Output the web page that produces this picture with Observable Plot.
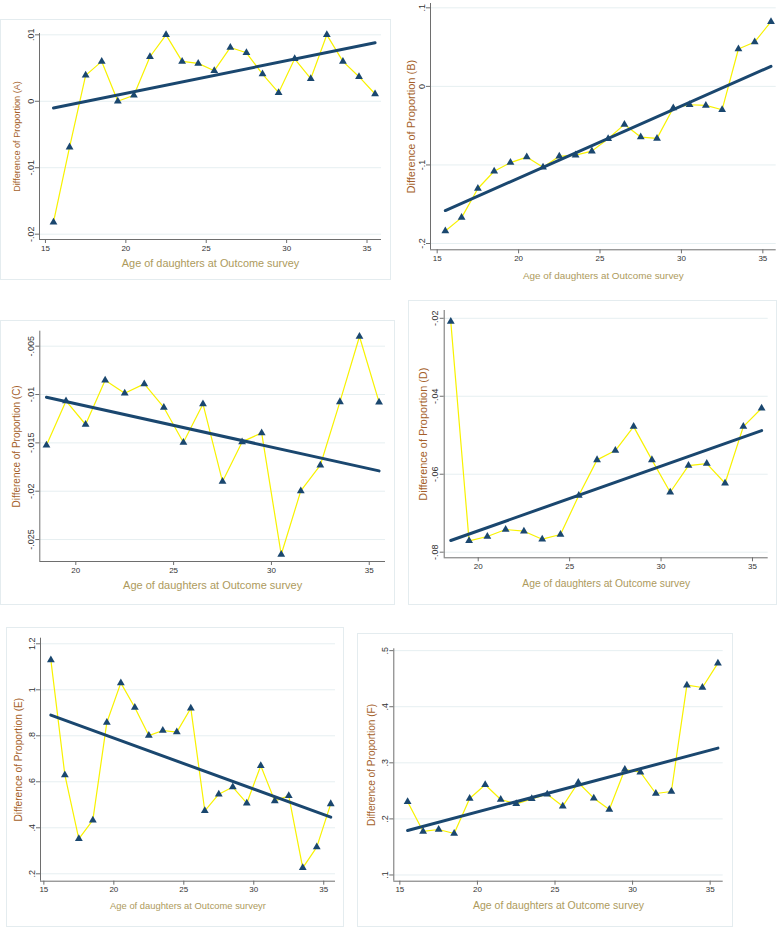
<!DOCTYPE html>
<html>
<head>
<meta charset="utf-8">
<script src="https://cdn.jsdelivr.net/npm/d3@7"></script>
<script src="https://cdn.jsdelivr.net/npm/@observablehq/plot@0.6"></script>
<style>
  html, body { margin: 0; padding: 0; background: #fff; }
  #page { position: relative; width: 778px; height: 928px; overflow: hidden; background: #fff; }
  .panel { position: absolute; }
  .panel svg { display: block; }
  .boxed { outline: 1px solid #e4ecef; outline-offset: -1px; }
</style>
</head>
<body>
<div id="page"></div>
<script>
// ---------- data ----------
const agesFull = [15.5,16.5,17.5,18.5,19.5,20.5,21.5,22.5,23.5,24.5,25.5,26.5,27.5,28.5,29.5,30.5,31.5,32.5,33.5,34.5,35.5];
const agesLate = [18.5,19.5,20.5,21.5,22.5,23.5,24.5,25.5,26.5,27.5,28.5,29.5,30.5,31.5,32.5,33.5,34.5,35.5];

const propA = [-0.0182,-0.0069,0.0039,0.0060,0.0000,0.0009,0.0067,0.0100,0.0060,0.0057,0.0046,0.0081,0.0073,0.0041,0.0013,0.0064,0.0034,0.0100,0.0060,0.0037,0.0011];
const propB = [-0.184,-0.167,-0.130,-0.108,-0.097,-0.090,-0.103,-0.089,-0.0875,-0.0824,-0.0667,-0.0484,-0.0645,-0.0662,-0.0276,-0.0234,-0.0242,-0.0297,0.0476,0.0565,0.0824];
const propC = [-0.01524,-0.01066,-0.0131,-0.00852,-0.00986,-0.0089,-0.01134,-0.01497,-0.01097,-0.0190,-0.0149,-0.01397,-0.02655,-0.01997,-0.01731,-0.01076,-0.0040,-0.01079];
const propD = [-0.02085,-0.07709,-0.07598,-0.07419,-0.07462,-0.07667,-0.07547,-0.06547,-0.05632,-0.05393,-0.04778,-0.05632,-0.06462,-0.05778,-0.05726,-0.06231,-0.04778,-0.04308];
const propE = [1.130,0.630,0.352,0.433,0.858,1.030,0.923,0.801,0.823,0.816,0.920,0.474,0.546,0.577,0.507,0.670,0.517,0.539,0.226,0.316,0.504];
const propF = [0.2305,0.1776,0.1811,0.1740,0.2364,0.2608,0.2346,0.2269,0.2358,0.2441,0.2227,0.2649,0.2370,0.2168,0.2881,0.2834,0.2453,0.2489,0.4385,0.4343,0.4777];

// fitted line values at first and last age
const fitAgesFull = [15.5, 35.5];
const fitAgesLate = [18.5, 35.5];
const fitA = [-0.0010, 0.0088];
const fitB = [-0.158, 0.0255];
const fitC = [-0.01028, -0.0179];
const fitD = [-0.0770, -0.0488];
const fitE = [0.890, 0.446];
const fitF = [0.1793, 0.3262];

// tick values
const xTicksFull = [15, 20, 25, 30, 35];
const xTicksLate = [20, 25, 30, 35];
const yTicksA = [-0.02, -0.01, 0, 0.01];
const yTicksB = [-0.2, -0.1, 0, 0.1];
const yTicksC = [-0.025, -0.02, -0.015, -0.01, -0.005];
const yTicksD = [-0.08, -0.06, -0.04, -0.02];
const yTicksE = [0.2, 0.4, 0.6, 0.8, 1, 1.2];
const yTicksF = [0.1, 0.2, 0.3, 0.4, 0.5];

const xTitle = "Age of daughters at Outcome survey";
const xTitleE = "Age of daughters at Outcome surveyr";

// ---------- layout (page pixels) ----------
const panels = [
  {id:"A", ages:agesFull, vals:propA, fitX:fitAgesFull, fit:fitA, xt:xTicksFull, yt:yTicksA, xTitle,
   left:0, top:19, width:391, height:261, mL:39, mT:14, mB:41, mR:10,
   xd:[14.63,35.9], yd:[-0.0208,0.0102], xOff:24, yOff:22.3, xFs:10.9, yFs:9.1, boxed:true},
  {id:"B", ages:agesFull, vals:propB, fitX:fitAgesFull, fit:fitB, xt:xTicksFull, yt:yTicksB, xTitle,
   left:391, top:0, width:387, height:280, mL:39, mT:3, mB:30.7, mR:2.3,
   xd:[14.59,35.82], yd:[-0.208,0.1055], xOff:25.7, yOff:19.3, xFs:9.9, yFs:11, boxed:false},
  {id:"C", ages:agesLate, vals:propC, fitX:fitAgesLate, fit:fitC, xt:xTicksLate, yt:yTicksC, xTitle,
   left:0, top:320, width:395, height:285, mL:39.3, mT:10.7, mB:44, mR:10,
   xd:[18.16,35.83], yd:[-0.02727,-0.00345], xOff:24, yOff:22.6, xFs:11, yFs:10, boxed:true},
  {id:"D", ages:agesLate, vals:propD, fitX:fitAgesLate, fit:fitD, xt:xTicksLate, yt:yTicksD, xTitle,
   left:408, top:300, width:369, height:305, mL:35.7, mT:10, mB:47.7, mR:9.3,
   xd:[18.14,35.86], yd:[-0.08144,-0.018], xOff:26, yOff:20.4, xFs:10.3, yFs:10.9, boxed:true},
  {id:"E", ages:agesFull, vals:propE, fitX:fitAgesFull, fit:fitE, xt:xTicksFull, yt:yTicksE, xTitle:xTitleE,
   left:6, top:627, width:338, height:300, mL:34, mT:10.7, mB:46.3, mR:9,
   xd:[14.76,35.84], yd:[0.1678,1.2243], xOff:24.3, yOff:21.7, xFs:9.4, yFs:10.2, boxed:true},
  {id:"F", ages:agesFull, vals:propF, fitX:fitAgesFull, fit:fitF, xt:xTicksFull, yt:yTicksF, xTitle,
   left:357, top:633, width:376, height:294, mL:36.3, mT:15.3, mB:46.3, mR:10.3,
   xd:[14.61,35.84], yd:[0.0889,0.5033], xOff:24.3, yOff:21.6, xFs:10.5, yFs:10.1, boxed:true}
];

const navy = "#1a476f";
const yellow = "#f8f200";
const fmt = d => d === 0 ? "0" : String(d).replace("0.", ".");

const page = document.getElementById("page");
for (const p of panels) {
  const pts = p.ages.map((a, i) => ({age: a, v: p.vals[i]}));
  const fitPts = p.fitX.map((a, i) => ({age: a, v: p.fit[i]}));
  const chart = Plot.plot({
    width: p.width,
    height: p.height,
    marginLeft: p.mL, marginTop: p.mT, marginBottom: p.mB, marginRight: p.mR,
    x: {domain: p.xd, axis: null},
    y: {domain: p.yd, axis: null},
    style: {fontFamily: "'Liberation Sans', Arial, sans-serif", background: "white", overflow: "visible"},
    marks: [
      Plot.gridY(p.yt, {stroke: "#e6eff1", strokeOpacity: 1, strokeWidth: 1}),
      Plot.ruleX([p.xd[0]], {stroke: "#6e6e6e", strokeWidth: 1}),
      Plot.ruleY([p.yd[0]], {stroke: "#6e6e6e", strokeWidth: 1}),
      Plot.axisX(p.xt, {anchor: "bottom", tickSize: 4, tickPadding: 1.5, fontSize: 8, fill: "#333", stroke: "#6e6e6e", label: null, tickFormat: d => String(d)}),
      Plot.axisY(p.yt, {anchor: "left", tickSize: 4, tickPadding: 2, tickRotate: -90, fontSize: 9, fill: "#333", stroke: "#6e6e6e", label: null, tickFormat: fmt}),
      Plot.line(pts, {x: "age", y: "v", stroke: yellow, strokeWidth: 1.2}),
      Plot.line(fitPts, {x: "age", y: "v", stroke: navy, strokeWidth: 3}),
      Plot.dot(pts, {x: "age", y: "v", symbol: "triangle", r: 2.9, fill: navy, stroke: "none"}),
      Plot.text([p.xTitle], {frameAnchor: "bottom", dy: p.xOff, lineAnchor: "middle", fontSize: p.xFs, fill: "#ad9a5c"}),
      Plot.text(["Difference of Proportion (" + p.id + ")"], {frameAnchor: "left", dx: -p.yOff, rotate: -90, lineAnchor: "middle", textAnchor: "middle", fontSize: p.yFs, fill: "#a55f2a"})
    ]
  });
  const wrap = document.createElement("div");
  wrap.className = "panel" + (p.boxed ? " boxed" : "");
  wrap.style.left = p.left + "px";
  wrap.style.top = p.top + "px";
  wrap.style.width = p.width + "px";
  wrap.style.height = p.height + "px";
  wrap.appendChild(chart);
  page.appendChild(wrap);
  if (p.boxed) chart.style.outline = "1px solid #e4ecef", chart.style.outlineOffset = "-1px";
}
</script>
</body>
</html>
